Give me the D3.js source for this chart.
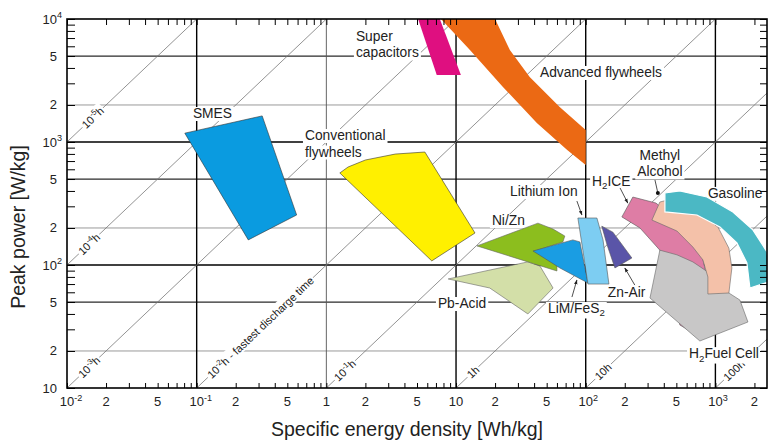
<!DOCTYPE html>
<html>
<head>
<meta charset="utf-8">
<script src="https://cdn.jsdelivr.net/npm/d3@7"></script>
<style>
body { margin: 0; background: #fff; }
text { font-family: "Liberation Sans", Arial, sans-serif; fill: #222; }
</style>
</head>
<body>
<script>
// axis ticks and labels
var xTickValues = [0.01,0.02,0.05,0.1,0.2,0.5,1,2,5,10,20,50,100,200,500,1000,2000];
var xTickLabels = ["10^-2","2","5","10^-1","2","5","1","2","5","10","2","5","10^2","2","5","10^3","2"];
var yTickValues = [10,20,50,100,200,500,1000,2000,5000,10000];
var yTickLabels = ["10","2","5","10^2","2","5","10^3","2","5","10^4"];

// constant discharge time lines, P = E / t
var dischargeTimes = [1e-5,1e-4,1e-3,1e-2,1e-1,1,10,100];
var dischargeLabels = ["10^-5h","10^-4h","10^-3h","10^-2h - fastest discharge time","10^-1h","1h","10h","100h"];
var dischargeLabelAt = [0.0158,0.0148,0.0148,0.31,1.39,13.5,136,1390];

// regions: [energy Wh/kg, power W/kg]
var smes = [[0.081,1180],[0.32,1630],[0.59,255],[0.25,160]];
var convFlywheels = [[1.27,560],[1.47,626],[2.0,714],[3.4,798],[5.75,829],[14,182],[6.5,108]];
var superCaps = [[5.1,10000],[7.5,10000],[10.9,3500],[7.1,3500]];
var advFlywheels = [[20,10000],[26,5600],[37,3380],[63,1925],[100,1250],[100,650],[72,860],[42,1430],[23,2800],[12.8,5600],[7.65,10000]];
var pbAcid = [[8.7,77],[35.8,106],[44.4,98],[56,65],[35.8,40],[18.2,65]];
var niZn = [[14.5,143],[42.8,219],[56,196],[69,172],[66.7,154],[40.6,130],[60,104],[60,89.4]];
var liMFeS2 = [[39.2,130],[79.6,160],[90.2,154],[104,71.4],[63.2,94.6]];
var liIon = [[87,241],[122,241],[136,160],[151,70],[104,70],[95,132]];
var znAir = [[133,207],[162,185],[227,114],[168,94.6],[146,146]];
var h2ICE = [[231,357],[348,319],[552,211],[787,121],[907,62.6],[759,36.4],[682,28],[532,32.5],[488,51.9],[430,83],[373,132],[262,200],[190,246]];
var h2FuelCell = [[373,132],[505,121],[670,106],[875,87.7],[1271,59.2],[1545,51.9],[1782,34.4],[759,24.1],[313,53.9]];
var methylAlcohol = [[324,232],[373,325],[430,338],[720,270],[1045,204],[1271,137],[1340,94.6],[1271,59.2],[875,58.1],[875,79.9],[801,110],[670,140],[505,189]];
var gasoline = [[408,385],[532,400],[860,357],[1365,270],[1945,193],[2500,128],[2700,74],[1845,65],[1750,104],[1465,151],[1084,204],[720,255],[408,270]];

var regions = [
   {pts: smes, fill: "#0a9be0", stroke: "#333"},
   {pts: convFlywheels, fill: "#fff000", stroke: "#333"},
   {pts: superCaps, fill: "#df0f80", stroke: "none"},
   {pts: advFlywheels, fill: "#eb6914", stroke: "none"},
   {pts: pbAcid, fill: "#d3dfa8", stroke: "#666"},
   {pts: niZn, fill: "#8cbe1e", stroke: "#666"},
   {pts: liMFeS2, fill: "#1a9de3", stroke: "#555"},
   {pts: liIon, fill: "#7dcdf2", stroke: "#555"},
   {pts: znAir, fill: "#5a55a8", stroke: "#555"},
   {pts: h2ICE, fill: "#de7da5", stroke: "#555"},
   {pts: h2FuelCell, fill: "#c8c7c7", stroke: "#666"},
   {pts: methylAlcohol, fill: "#f4c1a9", stroke: "#666"},
   {pts: gasoline, fill: "#4bb8c4", stroke: "#fff"}
];

var annotations = [
   {lines: ["SMES"], at: [0.0935,1567]},
   {lines: ["Super","capacitors"], at: [1.69,6627]},
   {lines: ["Advanced flywheels"], at: [44.4,3378]},
   {lines: ["Conventional","flywheels"], at: [0.684,1038]},
   {lines: ["Lithium Ion"], at: [26.1,364]},
   {lines: ["H_2ICE"], at: [112,439]},
   {lines: ["Methyl","Alcohol"], at: [373,714], anchor: "middle"},
   {lines: ["Gasoline"], at: [875,351]},
   {lines: ["Ni/Zn"], at: [18.9,211]},
   {lines: ["Pb-Acid"], at: [7.25,44.7]},
   {lines: ["LiM/FeS_2"], at: [51.2,40.7]},
   {lines: ["Zn-Air"], at: [148,54.9]},
   {lines: ["H_2Fuel Cell"], at: [2163,17.5], anchor: "end"}
];
var arrows = [
   {from: [85.5,331], to: [93.5,255]},
   {from: [184,423], to: [211,319]},
   {from: [78.3,54.9], to: [85.5,75.5]},
   {from: [239,68.7], to: [200,94.6]}
];
var dotLeader = {from: [342,491], to: [360,385]};

var W = 770, H = 442;
var x = d3.scaleLog().domain([0.01,2500]).range([67,767]);
var y = d3.scaleLog().domain([10,10000]).range([388,19]);

var svg = d3.select("body").append("svg").attr("width", W).attr("height", H);
var defs = svg.append("defs");
defs.append("clipPath").attr("id","plot").append("rect")
   .attr("x",67).attr("y",19).attr("width",700).attr("height",369);
defs.append("marker").attr("id","head")
   .attr("viewBox","0 0 10 10").attr("refX",9).attr("refY",5)
   .attr("markerWidth",6).attr("markerHeight",6).attr("orient","auto")
   .append("path").attr("d","M0,1.5L10,5L0,8.5Z").attr("fill","#222");

// rich text: ^ for superscript, _ for subscript
function rich(t, str, fs) {
   var parts = str.split(/(\^-?\d+|_\d+)/).filter(function (s) {return s.length;});
   var shift = 0;
   parts.forEach(function (p) {
      var target = 0, size = fs, cls = "";
      if (p[0] === "^") { target = -fs*0.42; size = fs*0.7; p = p.slice(1); cls = "sup"; }
      else if (p[0] === "_") { target = fs*0.25; size = fs*0.7; p = p.slice(1); }
      t.append("tspan").attr("class", cls).attr("dy", target - shift)
         .style("font-size", size + "px").text(p);
      shift = target;
   });
}
function lead(v) { return Math.round(v / Math.pow(10, Math.floor(Math.log10(v) + 1e-9))); }

var plot = svg.append("g").attr("clip-path","url(#plot)");

// horizontal grid
plot.selectAll("line.h").data(yTickValues.filter(function (v) {return v > 10 && v < 10000;}))
   .enter().append("line")
   .attr("x1",67).attr("x2",767)
   .attr("y1", function (d) {return y(d);}).attr("y2", function (d) {return y(d);})
   .attr("stroke", function (d) {var l = lead(d); return l === 1 ? "#000" : l === 5 ? "#2a2a2a" : "#9a9a9a";})
   .attr("stroke-width", function (d) {var l = lead(d); return l === 1 ? 1.5 : l === 5 ? 1.2 : 1;});

// vertical grid
plot.selectAll("line.v").data([0.1,1,10,100,1000])
   .enter().append("line")
   .attr("y1",19).attr("y2",388)
   .attr("x1", function (d) {return x(d);}).attr("x2", function (d) {return x(d);})
   .attr("stroke", function (d) {return d === 1 ? "#555" : "#000";})
   .attr("stroke-width", function (d) {return d === 1 ? 0.9 : 1.4;});

// discharge time diagonals
var line = d3.line().x(function (d) {return x(d[0]);}).y(function (d) {return y(d[1]);});
dischargeTimes.forEach(function (t) {
   plot.append("path").attr("d", line([[0.01, 0.01/t],[2500, 2500/t]]))
      .attr("fill","none").attr("stroke","#777").attr("stroke-width",0.8);
});

var bgLayer = svg.append("g");
var shapeLayer = svg.append("g").attr("clip-path","url(#plot)");
var textLayer = svg.append("g");

// diagonal labels
dischargeTimes.forEach(function (t, i) {
   var e = dischargeLabelAt[i];
   var px = x(e), py = y(e/t);
   var ang = Math.atan2(y(1/t) - y(0.1/t), x(1) - x(0.1)) * 180 / Math.PI;
   var g = bgLayer.append("g").attr("transform","translate(" + px + "," + py + ") rotate(" + ang + ")");
   var rect = g.append("rect").attr("fill","#fff");
   var txt = g.append("text").attr("text-anchor","middle").attr("y",4).style("font-size","11px");
   rich(txt, dischargeLabels[i], 11);
   var b = txt.node().getBBox();
   rect.attr("x", b.x - 1.5).attr("y", b.y).attr("width", b.width + 3).attr("height", b.height);
});

// regions
shapeLayer.selectAll("path").data(regions).enter().append("path")
   .attr("d", function (d) {return line(d.pts) + "Z";})
   .attr("fill", function (d) {return d.fill;})
   .attr("stroke", function (d) {return d.stroke;})
   .attr("stroke-width", function (d) {return d.stroke === "#fff" ? 1.2 : 0.6;});

// region labels
annotations.forEach(function (a) {
   a.lines.forEach(function (s, k) {
      var txt = textLayer.append("text")
         .attr("x", x(a.at[0])).attr("y", y(a.at[1]) + k*16.5)
         .attr("text-anchor", a.anchor || "start").style("font-size","13.8px");
      rich(txt, s, 13.8);
      var b = txt.node().getBBox();
      bgLayer.append("rect").attr("fill","#fff")
         .attr("x", b.x - 2).attr("y", b.y + 1).attr("width", b.width + 4).attr("height", b.height - 1);
   });
});

arrows.forEach(function (a) {
   textLayer.append("line")
      .attr("x1", x(a.from[0])).attr("y1", y(a.from[1]))
      .attr("x2", x(a.to[0])).attr("y2", y(a.to[1]))
      .attr("stroke","#222").attr("stroke-width",0.8).attr("marker-end","url(#head)");
});
textLayer.append("line")
   .attr("x1", x(dotLeader.from[0])).attr("y1", y(dotLeader.from[1]))
   .attr("x2", x(dotLeader.to[0])).attr("y2", y(dotLeader.to[1]))
   .attr("stroke","#222").attr("stroke-width",0.8);
textLayer.append("circle").attr("cx", x(dotLeader.to[0])).attr("cy", y(dotLeader.to[1]))
   .attr("r",2).attr("fill","#111");

// axes: inward ticks on all four sides
var ticksX = x.ticks(), ticksY = y.ticks();
function styleAxis(g) {
   g.select(".domain").remove();
   g.selectAll(".tick line").attr("stroke","#000").attr("stroke-width",1);
}
svg.append("g").attr("transform","translate(0,388)")
   .call(d3.axisBottom(x).tickValues(ticksX).tickSize(-5).tickFormat("")).call(styleAxis);
svg.append("g").attr("transform","translate(0,19)")
   .call(d3.axisTop(x).tickValues(ticksX).tickSize(-6).tickFormat("")).call(styleAxis);
svg.append("g").attr("transform","translate(67,0)")
   .call(d3.axisLeft(y).tickValues(ticksY).tickSize(-8).tickFormat("")).call(styleAxis);
svg.append("g").attr("transform","translate(767,0)")
   .call(d3.axisRight(y).tickValues(ticksY).tickSize(-7).tickFormat("")).call(styleAxis);

svg.append("rect").attr("x",67).attr("y",19).attr("width",700).attr("height",369)
   .attr("fill","none").attr("stroke","#000").attr("stroke-width",1.6);

// tick labels
xTickValues.forEach(function (v, i) {
   var t = svg.append("text").attr("x", x(v)).attr("y", 406)
      .attr("text-anchor","middle").style("font-size","13px");
   rich(t, xTickLabels[i], 13);
   var sup = t.select("tspan.sup").node();
   if (sup) t.attr("x", x(v) + sup.getComputedTextLength()/2);
});
yTickValues.forEach(function (v, i) {
   var t = svg.append("text").attr("x", 57).attr("y", y(v) + 4.5)
      .attr("text-anchor","end").style("font-size","13px");
   rich(t, yTickLabels[i], 13);
   var sup = t.select("tspan.sup").node();
   if (sup) t.attr("x", 57 + sup.getComputedTextLength());
});

// axis titles
svg.append("text").attr("x", 407).attr("y", 436).attr("text-anchor","middle")
   .style("font-size","19.5px").text("Specific energy density [Wh/kg]");
svg.append("text").attr("transform","translate(25,227) rotate(-90)").attr("text-anchor","middle")
   .style("font-size","19.5px").text("Peak power [W/kg]");
</script>
</body>
</html>
